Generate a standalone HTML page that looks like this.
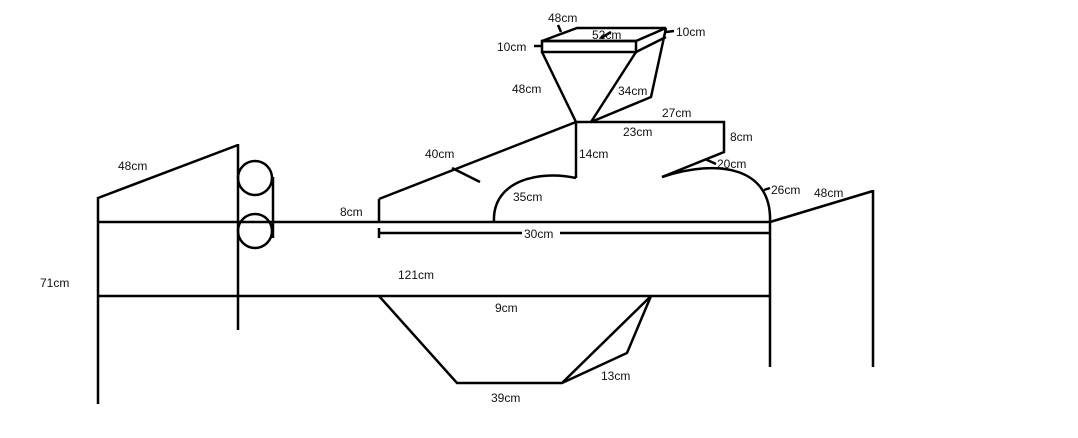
<!DOCTYPE html>
<html><head><meta charset="utf-8"><style>
html,body{margin:0;padding:0;background:#fff;}
svg{display:block;}
text{font-family:"Liberation Sans",sans-serif;font-size:12px;fill:#111;}
</style></head><body>
<svg width="1078" height="438" viewBox="0 0 1078 438">
<g stroke="#000" stroke-width="2.5" fill="none" stroke-linejoin="miter">
  <line x1="97" y1="222" x2="770" y2="222"/>
  <line x1="97" y1="296" x2="770" y2="296"/>
  <line x1="98" y1="197" x2="98" y2="404"/>
  <line x1="98" y1="198" x2="238" y2="145"/>
  <line x1="238" y1="144" x2="238" y2="330"/>
  <circle cx="255" cy="178" r="17"/>
  <circle cx="255" cy="231" r="17"/>
  <line x1="273" y1="177" x2="273" y2="238"/>
  <line x1="379" y1="199" x2="379" y2="222"/>
  <line x1="379" y1="228" x2="379" y2="238"/>
  <line x1="379" y1="233" x2="522" y2="233"/>
  <line x1="560" y1="233" x2="770" y2="233"/>
  <line x1="379" y1="199" x2="576" y2="122"/>
  <line x1="452" y1="168" x2="480" y2="182"/>
  <line x1="576" y1="122" x2="576" y2="178"/>
  <path d="M576,178 C540,170 492,180 494,222"/>
  <polyline points="575,122 724,122 724,152 662,177"/>
  <path d="M662,177 C720,158 772,168 770,222"/>
  <line x1="705" y1="159" x2="716" y2="164"/>
  <line x1="764" y1="190" x2="770" y2="188"/>
  <line x1="770" y1="222" x2="770" y2="367"/>
  <line x1="770" y1="222" x2="873" y2="191"/>
  <line x1="873" y1="190" x2="873" y2="367"/>
  <polygon points="542,41 577,28 666,28 636,41"/>
  <rect x="542" y="41" width="94" height="11"/>
  <line x1="666" y1="37" x2="636" y2="52"/>
  <line x1="542" y1="52" x2="576" y2="122"/>
  <line x1="636" y1="52" x2="591" y2="122"/>
  <polyline points="666,28 651,97 591,122"/>
  <line x1="558" y1="25" x2="561" y2="32"/>
  <line x1="601" y1="38" x2="611" y2="32"/>
  <line x1="534" y1="46" x2="542" y2="46"/>
  <line x1="666" y1="32" x2="674" y2="31"/>
  <polyline points="379,296 457,383 562,383 651,296"/>
  <polyline points="651,296 627,353 562,383"/>
</g>
<g>
  <text x="118" y="170">48cm</text>
  <text x="40" y="287">71cm</text>
  <text x="340" y="216">8cm</text>
  <text x="425" y="158">40cm</text>
  <text x="398" y="279">121cm</text>
  <text x="495" y="312">9cm</text>
  <text x="491" y="402">39cm</text>
  <text x="601" y="380">13cm</text>
  <text x="513" y="201">35cm</text>
  <text x="579" y="158">14cm</text>
  <text x="623" y="136">23cm</text>
  <text x="662" y="117">27cm</text>
  <text x="730" y="141">8cm</text>
  <text x="717" y="168">20cm</text>
  <text x="771" y="194">26cm</text>
  <text x="814" y="197">48cm</text>
  <text x="548" y="22">48cm</text>
  <text x="592" y="39">52cm</text>
  <text x="497" y="51">10cm</text>
  <text x="676" y="36">10cm</text>
  <text x="512" y="93">48cm</text>
  <text x="618" y="95">34cm</text>
  <text x="524" y="238">30cm</text>
</g>
</svg>
</body></html>
